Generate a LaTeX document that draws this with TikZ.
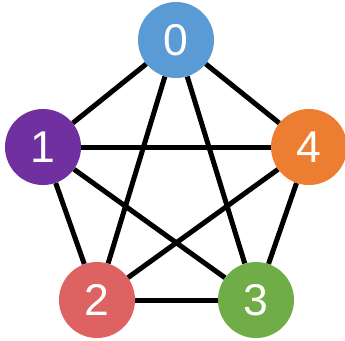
\documentclass[tikz,border=0pt]{standalone}
\usepackage{fontspec}
\setmainfont{Liberation Sans}
\usepackage{tikz}
\usepackage{xcolor}
\usetikzlibrary{positioning}
\definecolor{nodeblue}{HTML}{5B9BD5}
\definecolor{nodepurple}{HTML}{7030A0}
\definecolor{nodeorange}{HTML}{ED7D31}
\definecolor{nodered}{HTML}{DE6262}
\definecolor{nodegreen}{HTML}{70AD47}

\begin{document}
\begin{tikzpicture}[
    x=0.03cm, y=-0.03cm,
    vertex/.style={circle, draw=none, minimum size=2.28cm, inner sep=0pt, text=white, font=\fontsize{38}{40}\selectfont},
    edge/.style={draw=black, line width=0.15cm}
]
    \useasboundingbox (0, 0) rectangle (345, 340);

    \node [vertex, fill=nodeblue] (v0) at (176, 40) {0};
    \node [vertex, fill=nodepurple] (v1) at (43, 147) {1};
    \node [vertex, fill=nodeorange] (v4) at (309, 147) {4};
    \node [vertex, fill=nodered] (v2) at (97, 300) {2};
    \node [vertex, fill=nodegreen] (v3) at (256, 300) {3};

    \begin{scope}[on background layer/.style={}]
    \draw [edge] (v0) -- (v1);
    \draw [edge] (v0) -- (v4);
    \draw [edge] (v0) -- (v2);
    \draw [edge] (v0) -- (v3);
    \draw [edge] (v1) -- (v4);
    \draw [edge] (v1) -- (v2);
    \draw [edge] (v1) -- (v3);
    \draw [edge] (v4) -- (v2);
    \draw [edge] (v4) -- (v3);
    \draw [edge] (v2) -- (v3);
    \end{scope}

\end{tikzpicture}
\end{document}
